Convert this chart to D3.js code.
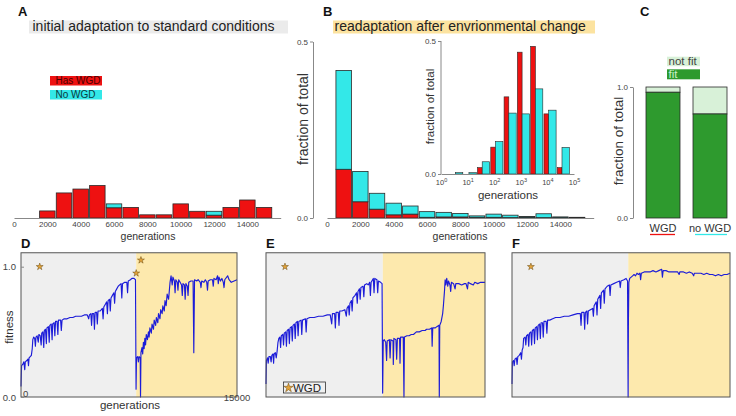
<!DOCTYPE html>
<html><head><meta charset="utf-8">
<script src="https://cdn.jsdelivr.net/npm/d3@7"></script>
<style>
body{margin:0;background:#fff}
svg{display:block}
text{font-family:"Liberation Sans",Arial,Helvetica,sans-serif}
</style></head>
<body><svg id="c" width="736" height="416"></svg>
<script>
// ---------------- DATA ----------------
// Panel A: initial adaptation, histogram of generations (fraction of total), stacked
const binsA = [2000,3000,4000,5000,6000,7000,8000,9000,10000,11000,12000,13000,14000,15000];
const aHasWGD = [0.020,0.071,0.082,0.092,0.029,0.030,0.009,0.009,0.040,0.019,0.008,0.030,0.051,0.030];
const aNoWGD  = [0,0,0,0,0.011,0,0,0,0,0,0.011,0,0,0];
const ticksAB = [0,2000,4000,6000,8000,10000,12000,14000];

// Panel B: readaptation, stacked histogram
const binsB = [1000,2000,3000,4000,5000,6000,7000,8000,9000,10000,11000,12000,13000,14000,15000];
const bHasWGD = [0.138,0.046,0.025,0.009,0.011,0.002,0.003,0.003,0.002,0.002,0.001,0.002,0.001,0.002,0.001];
const bNoWGD  = [0.280,0.086,0.045,0.033,0.023,0.016,0.013,0.010,0.004,0.009,0.007,0.002,0.011,0.001,0.001];

// Panel B inset: log-binned histogram (bin lower edges in generations)
const insetBinLo = [2.2,7.1,22.4,70.8,224,708,2239,7079,22387];
const insetHas = [0,0,0.024,0.101,0.290,0.458,0.480,0.226,0.024];
const insetNo  = [0.005,0.005,0.046,0.122,0.229,0.226,0.320,0.240,0.100];
const insetTicks = [1,10,100,1000,10000,100000];

// Panel C: fraction fit
const cGroups = ["WGD","no WGD"];
const cFit = [0.96,0.794];

// Panels D-F: fitness traces [generation, fitness]
const envChange = 8000;
const traceD = [[0,0.08],[40,0.24],[120,0.25],[200,0.27],[260,0.21],[300,0.27],[400,0.28],[480,0.29],[520,0.24],[560,0.30],[640,0.31],[720,0.32],[780,0.37],[820,0.44],[880,0.46],[950,0.45],[1000,0.39],[1040,0.46],[1120,0.47],[1200,0.42],[1240,0.48],[1330,0.47],[1400,0.40],[1440,0.49],[1520,0.50],[1580,0.38],[1620,0.51],[1700,0.52],[1760,0.41],[1800,0.53],[1900,0.54],[1960,0.42],[2000,0.55],[2100,0.56],[2160,0.44],[2200,0.56],[2300,0.57],[2350,0.47],[2400,0.58],[2500,0.58],[2560,0.48],[2600,0.59],[2750,0.59],[2800,0.51],[2850,0.59],[3000,0.60],[3200,0.60],[3400,0.61],[3600,0.61],[3800,0.62],[4000,0.62],[4200,0.62],[4400,0.63],[4600,0.63],[4700,0.60],[4750,0.63],[4850,0.64],[4900,0.55],[4950,0.64],[5050,0.64],[5100,0.52],[5150,0.65],[5250,0.65],[5300,0.56],[5350,0.66],[5500,0.66],[5650,0.68],[5700,0.60],[5750,0.69],[5850,0.71],[5950,0.73],[6000,0.64],[6050,0.74],[6150,0.75],[6200,0.66],[6250,0.76],[6350,0.78],[6450,0.80],[6500,0.72],[6550,0.81],[6650,0.83],[6750,0.85],[6850,0.86],[6950,0.87],[7000,0.76],[7050,0.87],[7200,0.88],[7350,0.88],[7400,0.80],[7450,0.89],[7600,0.90],[7700,0.91],[7850,0.91],[7950,0.90],[7990,0.06],[8020,0.30],[8100,0.31],[8150,0.27],[8200,0.31],[8280,0.30],[8300,0.0],[8330,0.34],[8400,0.38],[8450,0.33],[8500,0.42],[8550,0.37],[8600,0.45],[8650,0.40],[8700,0.48],[8780,0.44],[8850,0.50],[8900,0.46],[8950,0.53],[9050,0.49],[9100,0.56],[9200,0.52],[9250,0.59],[9350,0.55],[9400,0.61],[9500,0.57],[9550,0.64],[9650,0.60],[9700,0.67],[9800,0.64],[9850,0.70],[9950,0.66],[10000,0.74],[10080,0.70],[10150,0.79],[10250,0.75],[10350,0.88],[10420,0.93],[10500,0.86],[10550,0.92],[10650,0.89],[10700,0.80],[10750,0.90],[10850,0.88],[10900,0.82],[10950,0.90],[11050,0.88],[11150,0.86],[11200,0.78],[11250,0.87],[11350,0.86],[11400,0.75],[11450,0.87],[11550,0.85],[11600,0.78],[11650,0.88],[11800,0.89],[11950,0.89],[12000,0.34],[12050,0.90],[12200,0.89],[12300,0.90],[12450,0.88],[12500,0.84],[12550,0.89],[12700,0.88],[12800,0.90],[12900,0.88],[12950,0.82],[13000,0.89],[13150,0.90],[13300,0.90],[13350,0.85],[13400,0.91],[13550,0.90],[13650,0.93],[13700,0.87],[13750,0.92],[13850,0.89],[13950,0.91],[14050,0.88],[14100,0.84],[14150,0.90],[14350,0.93],[14450,0.90],[14600,0.88],[14800,0.89],[15000,0.90]];
const traceE = [[0,0.10],[30,0.28],[100,0.30],[150,0.26],[200,0.31],[300,0.31],[350,0.27],[400,0.32],[480,0.33],[520,0.26],[560,0.33],[640,0.34],[700,0.30],[760,0.35],[820,0.42],[880,0.45],[950,0.46],[1000,0.38],[1050,0.47],[1150,0.48],[1200,0.40],[1250,0.49],[1350,0.50],[1400,0.39],[1450,0.51],[1550,0.52],[1600,0.41],[1650,0.53],[1750,0.54],[1800,0.43],[1850,0.55],[1950,0.56],[2000,0.45],[2050,0.57],[2150,0.58],[2200,0.47],[2250,0.58],[2400,0.59],[2450,0.48],[2500,0.59],[2700,0.60],[2750,0.50],[2800,0.60],[3000,0.61],[3300,0.61],[3600,0.62],[3900,0.62],[4200,0.63],[4400,0.63],[4500,0.56],[4550,0.64],[4700,0.64],[4750,0.53],[4800,0.65],[4950,0.65],[5000,0.55],[5050,0.66],[5200,0.66],[5400,0.67],[5500,0.62],[5550,0.68],[5650,0.70],[5700,0.63],[5750,0.72],[5850,0.74],[5900,0.66],[5950,0.76],[6100,0.78],[6200,0.80],[6250,0.72],[6300,0.81],[6400,0.83],[6450,0.75],[6500,0.84],[6650,0.85],[6700,0.77],[6750,0.86],[6900,0.87],[7000,0.86],[7100,0.88],[7150,0.78],[7200,0.88],[7350,0.91],[7400,0.80],[7450,0.91],[7600,0.90],[7650,0.80],[7700,0.89],[7850,0.88],[7950,0.87],[7990,0.03],[8030,0.43],[8100,0.44],[8200,0.42],[8260,0.28],[8300,0.43],[8450,0.44],[8500,0.30],[8550,0.44],[8700,0.43],[8720,0.25],[8760,0.45],[8900,0.44],[8950,0.29],[9000,0.45],[9150,0.45],[9180,0.26],[9220,0.46],[9400,0.46],[9450,0.0],[9480,0.46],[9650,0.47],[9800,0.47],[9950,0.48],[10100,0.48],[10300,0.50],[10500,0.50],[10700,0.51],[10900,0.51],[11000,0.52],[11200,0.52],[11350,0.53],[11380,0.39],[11420,0.53],[11600,0.53],[11700,0.54],[11850,0.55],[11870,0.0],[11900,0.55],[12000,0.58],[12100,0.64],[12150,0.70],[12230,0.82],[12270,0.90],[12320,0.86],[12380,0.91],[12450,0.85],[12500,0.89],[12600,0.86],[12650,0.81],[12700,0.88],[12850,0.87],[12950,0.83],[13000,0.87],[13200,0.87],[13400,0.86],[13600,0.87],[13700,0.87],[13800,0.83],[13850,0.88],[14000,0.87],[14200,0.86],[14300,0.88],[14500,0.87],[14700,0.88],[15000,0.88]];
const traceF = [[0,0.10],[30,0.27],[100,0.28],[150,0.24],[200,0.29],[300,0.30],[350,0.25],[400,0.31],[500,0.32],[600,0.34],[650,0.29],[700,0.36],[760,0.38],[800,0.45],[900,0.46],[950,0.40],[1000,0.47],[1100,0.48],[1150,0.39],[1200,0.49],[1300,0.50],[1350,0.40],[1400,0.51],[1500,0.52],[1550,0.41],[1600,0.53],[1700,0.54],[1750,0.44],[1800,0.55],[1900,0.56],[1950,0.45],[2000,0.57],[2100,0.57],[2150,0.46],[2200,0.58],[2350,0.58],[2400,0.49],[2450,0.59],[2600,0.59],[2800,0.60],[3000,0.61],[3300,0.61],[3600,0.62],[3900,0.62],[4200,0.63],[4500,0.64],[4700,0.64],[4750,0.55],[4800,0.65],[4950,0.65],[5000,0.52],[5050,0.65],[5150,0.66],[5200,0.56],[5250,0.66],[5400,0.67],[5550,0.68],[5600,0.62],[5650,0.70],[5800,0.73],[5850,0.63],[5900,0.75],[6050,0.78],[6100,0.68],[6150,0.80],[6300,0.82],[6350,0.72],[6400,0.83],[6550,0.85],[6700,0.86],[6750,0.78],[6800,0.86],[7000,0.87],[7200,0.88],[7400,0.89],[7450,0.84],[7500,0.89],[7700,0.90],[7850,0.91],[7950,0.89],[7990,0.0],[8010,0.58],[8040,0.88],[8100,0.91],[8200,0.92],[8300,0.93],[8400,0.94],[8500,0.93],[8600,0.95],[8700,0.94],[8800,0.95],[8850,0.90],[8900,0.95],[9100,0.96],[9300,0.96],[9500,0.96],[9700,0.97],[9900,0.96],[10100,0.97],[10300,0.98],[10350,0.92],[10400,0.97],[10600,0.97],[10800,0.96],[11000,0.96],[11200,0.96],[11400,0.96],[11500,0.94],[11550,0.96],[11800,0.96],[12000,0.95],[12200,0.96],[12400,0.95],[12500,0.93],[12550,0.95],[12800,0.95],[13000,0.95],[13200,0.94],[13400,0.95],[13600,0.94],[13800,0.94],[14000,0.93],[14200,0.94],[14400,0.93],[14600,0.94],[14800,0.94],[15000,0.95]];
const starsD = [[1300,1.0],[8000,0.95],[8330,1.05]];
const starsE = [[1300,1.0]];
const starsF = [[1300,1.0]];

// ---------------- STYLE ----------------
const RED="#ee1111", CYAN="#33e8e8", DGREEN="#2e9a2e", LGREEN="#d8f1d8";
const GRAYBG="#efefef", ORANGEBG="#fde9ad", TITLEOR="#fce3a0", BLUE="#1c1cd8";
const AX="#888", TXT="#444", BARSTROKE="#2a2a2a";

const svg = d3.select("#c");

function letter(t,x,y){svg.append("text").attr("x",x).attr("y",y).attr("font-size",13).attr("font-weight","bold").attr("fill","#111").text(t);}
function ylabel(t,x,y,fs){svg.append("text").attr("transform",`translate(${x},${y}) rotate(-90)`).attr("text-anchor","middle").attr("dominant-baseline","central").attr("font-size",fs).attr("fill","#333").text(t);}
function styleAxis(g,fs){g.selectAll("path,line").attr("stroke",AX);g.selectAll("text").attr("fill",TXT).attr("font-size",fs).attr("font-family",'"Liberation Sans",Arial,sans-serif');}

// ---------------- PANEL A ----------------
letter("A",18,16);
svg.append("rect").attr("x",29).attr("y",20.5).attr("width",259).attr("height",13).attr("fill","#ebebeb");
svg.append("text").attr("x",32.5).attr("y",31.3).attr("font-size",14).attr("fill","#222").text("initial adaptation to standard conditions");

const xA = d3.scaleLinear().domain([0,16000]).range([14,280.7]);
const yAB = d3.scaleLinear().domain([0,0.5]).range([218,41.5]);
const gA = svg.append("g");
gA.selectAll("rect.has").data(binsA).join("rect")
  .attr("x",d=>xA(d-500)+0.6).attr("width",d=>xA(d+500)-xA(d-500)-1.2)
  .attr("y",(d,i)=>yAB(aHasWGD[i])).attr("height",(d,i)=>yAB(0)-yAB(aHasWGD[i]))
  .attr("fill",RED).attr("stroke",BARSTROKE).attr("stroke-width",0.8);
gA.selectAll("rect.no").data(binsA.filter((d,i)=>aNoWGD[i]>0)).join("rect")
  .attr("x",d=>xA(d-500)+0.6).attr("width",d=>xA(d+500)-xA(d-500)-1.2)
  .attr("y",d=>{const i=binsA.indexOf(d);return yAB(aHasWGD[i]+aNoWGD[i]);})
  .attr("height",d=>{const i=binsA.indexOf(d);return yAB(aHasWGD[i])-yAB(aHasWGD[i]+aNoWGD[i]);})
  .attr("fill",CYAN).attr("stroke",BARSTROKE).attr("stroke-width",0.8);
const axA = svg.append("g").attr("transform","translate(0,218)")
  .call(d3.axisBottom(xA).tickValues(ticksAB).tickSize(0).tickSizeOuter(0).tickPadding(3).tickFormat(d3.format("d")));
styleAxis(axA,8);
svg.append("text").attr("x",148).attr("y",239.5).attr("text-anchor","middle").attr("font-size",10.5).attr("fill","#333").text("generations");
// legend A
svg.append("rect").attr("x",50).attr("y",76).attr("width",52).attr("height",9.5).attr("fill",RED);
svg.append("text").attr("x",55.5).attr("y",84.3).attr("font-size",10).attr("fill","#4a0000").text("Has WGD");
svg.append("rect").attr("x",50).attr("y",90).attr("width",52).attr("height",9.5).attr("fill",CYAN);
svg.append("text").attr("x",55.5).attr("y",98.3).attr("font-size",10).attr("fill","#0a3a40").text("No WGD");

// ---------------- PANEL B ----------------
letter("B",323,16);
svg.append("rect").attr("x",333).attr("y",20.5).attr("width",262).attr("height",13).attr("fill",TITLEOR);
svg.append("text").attr("x",334.5).attr("y",31.3).attr("font-size",14).attr("fill","#222").text("readaptation after envrionmental change");

const xB = d3.scaleLinear().domain([0,16000]).range([327,593.7]);
const gB = svg.append("g");
gB.selectAll("rect.has").data(binsB).join("rect")
  .attr("x",d=>xB(d-500)+0.6).attr("width",d=>xB(d+500)-xB(d-500)-1.2)
  .attr("y",(d,i)=>yAB(bHasWGD[i])).attr("height",(d,i)=>yAB(0)-yAB(bHasWGD[i]))
  .attr("fill",RED).attr("stroke",BARSTROKE).attr("stroke-width",0.8);
gB.selectAll("rect.no").data(binsB).join("rect")
  .attr("x",d=>xB(d-500)+0.6).attr("width",d=>xB(d+500)-xB(d-500)-1.2)
  .attr("y",(d,i)=>yAB(bHasWGD[i]+bNoWGD[i])).attr("height",(d,i)=>yAB(bHasWGD[i])-yAB(bHasWGD[i]+bNoWGD[i]))
  .attr("fill",CYAN).attr("stroke",BARSTROKE).attr("stroke-width",0.8);
const axBx = svg.append("g").attr("transform","translate(0,218)")
  .call(d3.axisBottom(xB).tickValues(ticksAB).tickSize(0).tickSizeOuter(0).tickPadding(3).tickFormat(d3.format("d")));
styleAxis(axBx,8);
const axBy = svg.append("g").attr("transform","translate(313,0)")
  .call(d3.axisLeft(yAB).tickValues([0,0.5]).tickSize(3).tickSizeOuter(0).tickPadding(2).tickFormat(d3.format(".1f")));
styleAxis(axBy,8);
svg.append("text").attr("x",460).attr("y",239.5).attr("text-anchor","middle").attr("font-size",10.5).attr("fill","#333").text("generations");
ylabel("fraction of total",303,119,14);

// inset
const xI = d3.scaleLog().domain([1,1e5]).range([441,574]);
const yI = d3.scaleLinear().domain([0,0.5]).range([174,41]);
const gI = svg.append("g");
gI.selectAll("rect.has").data(insetBinLo).join("rect")
  .attr("x",d=>xI(d*1.05)).attr("width",d=>xI(d*1.58)-xI(d*1.05))
  .attr("y",(d,i)=>yI(insetHas[i])).attr("height",(d,i)=>yI(0)-yI(insetHas[i]))
  .attr("fill",RED).attr("stroke",BARSTROKE).attr("stroke-width",0.6)
  .attr("display",(d,i)=>insetHas[i]>0?null:"none");
gI.selectAll("rect.no").data(insetBinLo).join("rect")
  .attr("x",d=>xI(d*1.58)).attr("width",d=>xI(d*3.0)-xI(d*1.58))
  .attr("y",(d,i)=>yI(insetNo[i])).attr("height",(d,i)=>yI(0)-yI(insetNo[i]))
  .attr("fill",CYAN).attr("stroke",BARSTROKE).attr("stroke-width",0.6);
const axIx = svg.append("g").attr("transform","translate(0,174)")
  .call(d3.axisBottom(xI).tickValues(insetTicks).tickSize(0).tickSizeOuter(0).tickPadding(6).tickFormat(()=>""));
styleAxis(axIx,7.5);
axIx.selectAll(".tick text").each(function(d){
  const t=d3.select(this);
  t.append("tspan").text("10");
  t.append("tspan").attr("dy",-3.5).attr("font-size",5.5).text(Math.round(Math.log10(d)));
});
const axIy = svg.append("g").attr("transform","translate(441,0)")
  .call(d3.axisLeft(yI).tickValues([0,0.5]).tickSize(3).tickSizeOuter(0).tickPadding(2).tickFormat(d3.format(".1f")));
styleAxis(axIy,8);
axIy.select(".domain").attr("d","M0,41V174");
svg.append("text").attr("x",508).attr("y",198.5).attr("text-anchor","middle").attr("font-size",11.5).attr("fill","#333").text("generations");
ylabel("fraction of total",429.5,106.5,11.5);

// ---------------- PANEL C ----------------
letter("C",640,16);
svg.append("rect").attr("x",667).attr("y",56.7).attr("width",33).attr("height",9.5).attr("fill",LGREEN);
svg.append("text").attr("x",668.5).attr("y",65).attr("font-size",11.5).attr("fill","#444").text("not fit");
svg.append("rect").attr("x",667).attr("y",69.3).attr("width",33).attr("height",10).attr("fill",DGREEN);
svg.append("text").attr("x",668.5).attr("y",77.8).attr("font-size",11.5).attr("fill","#c8efc8").text("fit");
const xC = d3.scalePoint().domain(cGroups).range([663,710]);
const yC = d3.scaleLinear().domain([0,1]).range([218,87]);
const bw = 34;
svg.selectAll("rect.cnot").data(cGroups).join("rect")
  .attr("x",d=>xC(d)-bw/2).attr("width",bw).attr("y",yC(1)).attr("height",(d,i)=>yC(cFit[i])-yC(1))
  .attr("fill",LGREEN).attr("stroke",BARSTROKE).attr("stroke-width",0.8);
svg.selectAll("rect.cfit").data(cGroups).join("rect")
  .attr("x",d=>xC(d)-bw/2).attr("width",bw).attr("y",(d,i)=>yC(cFit[i])).attr("height",(d,i)=>yC(0)-yC(cFit[i]))
  .attr("fill",DGREEN).attr("stroke",BARSTROKE).attr("stroke-width",0.8);
const axCy = svg.append("g").attr("transform","translate(633,0)")
  .call(d3.axisLeft(yC).tickValues([0,1]).tickSize(3).tickSizeOuter(0).tickPadding(2).tickFormat(d3.format(".1f")));
styleAxis(axCy,8);
svg.selectAll("text.cx").data(cGroups).join("text")
  .attr("x",d=>xC(d)).attr("y",231.5).attr("text-anchor","middle").attr("font-size",11).attr("fill","#333").text(d=>d);
svg.selectAll("line.cu").data(cGroups).join("line")
  .attr("x1",d=>xC(d)-(d==="WGD"?13:15)).attr("x2",d=>xC(d)+(d==="WGD"?12:17))
  .attr("y1",234.5).attr("y2",234.5).attr("stroke",(d,i)=>i===0?RED:CYAN).attr("stroke-width",1.3);
ylabel("fraction of total",618,141,13.5);

// ---------------- PANELS D, E, F ----------------
const yF = d3.scaleLinear().domain([0,1]).range([397,266.7]);
const topVal = 1.107;
const star = d3.symbol().type(d3.symbolStar).size(15);
function tracePanel(lbl, x0, x1, trace, stars){
  const x = d3.scaleLinear().domain([0,15000]).range([x0,x1]);
  const g = svg.append("g");
  g.append("rect").attr("x",x(0)).attr("y",yF(topVal)).attr("width",x(envChange)-x(0)).attr("height",yF(0)-yF(topVal)).attr("fill",GRAYBG);
  g.append("rect").attr("x",x(envChange)).attr("y",yF(topVal)).attr("width",x(15000)-x(envChange)).attr("height",yF(0)-yF(topVal)).attr("fill",ORANGEBG);
  g.append("path").datum(trace).attr("d",d3.line().x(d=>x(d[0])).y(d=>yF(d[1])))
    .attr("fill","none").attr("stroke",BLUE).attr("stroke-width",1.15).attr("stroke-linejoin","round");
  g.append("rect").attr("x",x(0)).attr("y",yF(topVal)).attr("width",x(15000)-x(0)).attr("height",yF(0)-yF(topVal))
    .attr("fill","none").attr("stroke","#555").attr("stroke-width",1);
  g.selectAll("path.star").data(stars).join("path").attr("d",star)
    .attr("transform",d=>`translate(${x(d[0])},${yF(d[1])})`)
    .attr("fill","#e3a33a").attr("stroke","#6b4a10").attr("stroke-width",0.5);
  letter(lbl,x0,248);
  return x;
}
const xD = tracePanel("D",21,237,traceD,starsD);
tracePanel("E",266,485,traceE,starsE);
tracePanel("F",512,730,traceF,starsF);

// D axes
const axDy = svg.append("g").attr("transform","translate(21,0)")
  .call(d3.axisLeft(yF).tickValues([0,1]).tickSize(3).tickSizeOuter(0).tickPadding(2).tickFormat(d3.format(".1f")));
styleAxis(axDy,9.5);
axDy.select(".domain").remove();
axDy.selectAll(".tick line").attr("x2",3);
svg.selectAll("text.dx").data([0,15000]).join("text")
  .attr("x",d=>xD(d)+(d===0?2:0)).attr("y",d=>d===0?397:400.5)
  .attr("text-anchor",d=>d===0?"start":"middle").attr("font-size",9.5).attr("fill",TXT).text(d=>d);
svg.append("text").attr("x",130).attr("y",408.5).attr("text-anchor","middle").attr("font-size",11.5).attr("fill","#333").text("generations");
ylabel("fitness",9,327,11.5);

// E legend
svg.append("rect").attr("x",283.5).attr("y",382).attr("width",42).attr("height",11).attr("fill","#f0f0f0").attr("stroke","#333").attr("stroke-width",0.8);
svg.append("path").attr("d",d3.symbol().type(d3.symbolStar).size(26)).attr("transform","translate(288.5,387.8)")
  .attr("fill","#e3a33a").attr("stroke","#6b4a10").attr("stroke-width",0.5);
svg.append("text").attr("x",293).attr("y",391.8).attr("font-size",11.5).attr("fill","#222").text("WGD");
</script></body></html>
